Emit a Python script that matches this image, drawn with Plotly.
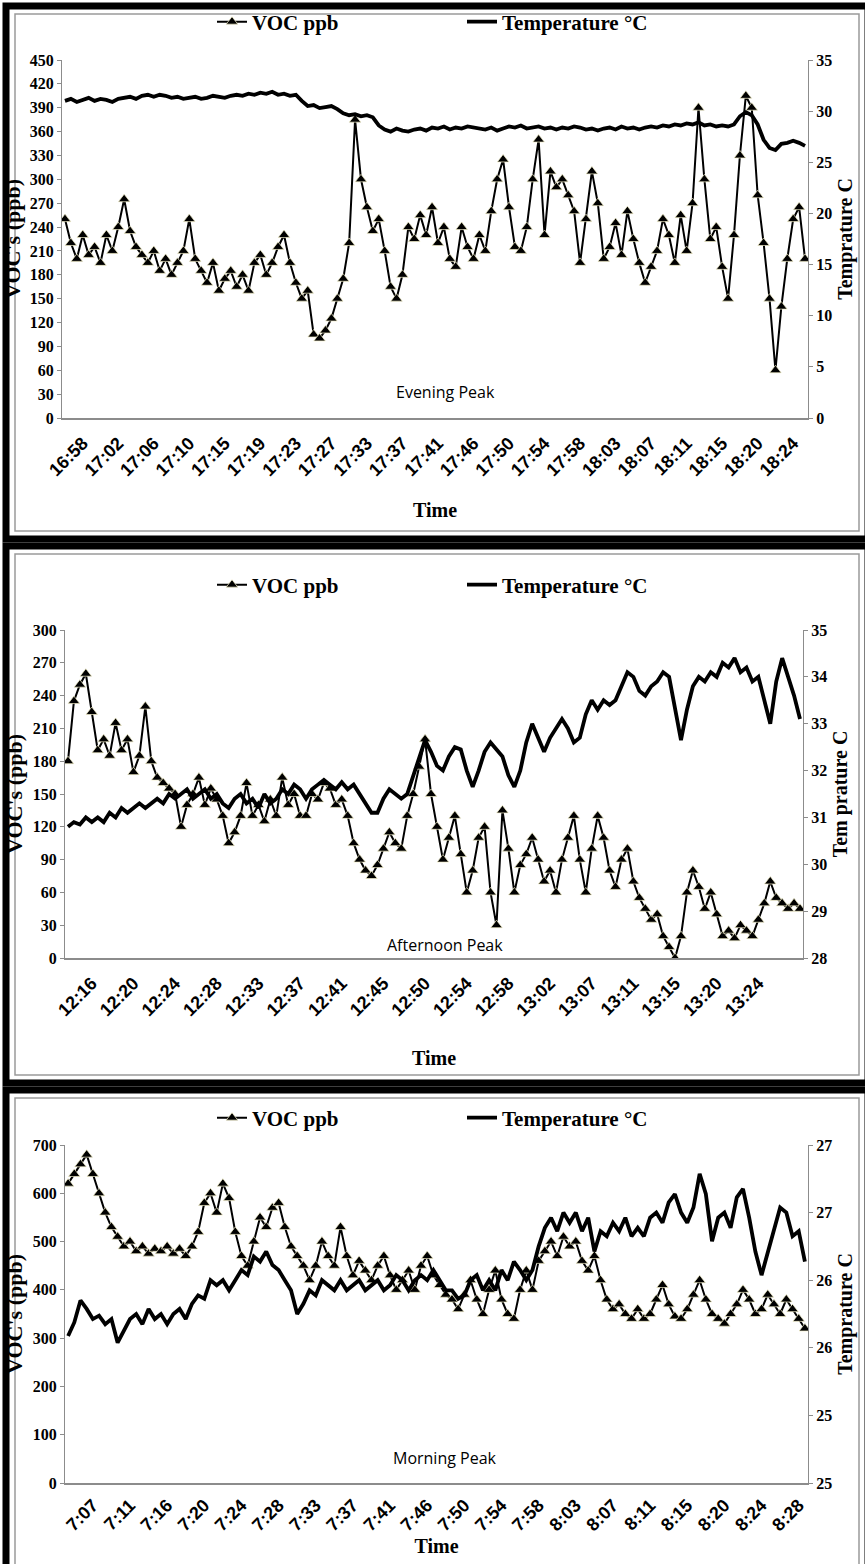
import plotly.graph_objects as go

W, H = 865, 1564

# ---------------- Evening peak ----------------
eve_labels = ["16:58", "17:02", "17:06", "17:10", "17:15", "17:19", "17:23", "17:27", "17:33", "17:37",
              "17:41", "17:46", "17:50", "17:54", "17:58", "18:03", "18:07", "18:11", "18:15", "18:20", "18:24"]
eve_voc = [250, 220, 200, 230, 205, 215, 195, 230, 210, 240,
           275, 235, 215, 205, 195, 210, 185, 200, 180, 195,
           210, 250, 200, 185, 170, 195, 160, 175, 185, 165,
           180, 160, 195, 205, 180, 195, 215, 230, 195, 170,
           150, 160, 105, 100, 110, 125, 150, 175, 220, 375,
           300, 265, 235, 250, 210, 165, 150, 180, 240, 225,
           255, 230, 265, 220, 240, 200, 190, 240, 215, 200,
           230, 210, 260, 300, 325, 265, 215, 210, 240, 300,
           350, 230, 310, 290, 300, 280, 260, 195, 250, 310,
           270, 200, 215, 245, 205, 260, 225, 195, 170, 190,
           210, 250, 230, 195, 255, 210, 270, 390, 300, 225,
           240, 190, 150, 230, 330, 405, 390, 280, 220, 150,
           60, 140, 200, 250, 265, 200]
eve_temp = [31.0, 31.2, 30.9, 31.1, 31.3, 31.0, 31.2, 31.1, 30.9, 31.2,
            31.3, 31.4, 31.2, 31.5, 31.6, 31.4, 31.6, 31.5, 31.3, 31.4,
            31.2, 31.3, 31.4, 31.2, 31.3, 31.5, 31.4, 31.3, 31.5, 31.6,
            31.5, 31.7, 31.6, 31.8, 31.7, 31.9, 31.6, 31.7, 31.5, 31.6,
            31.0, 30.5, 30.6, 30.3, 30.4, 30.5, 30.2, 29.8, 29.6, 29.7,
            29.5, 29.6, 29.4, 28.6, 28.2, 28.0, 28.3, 28.1, 28.0, 28.2,
            28.3, 28.1, 28.4, 28.3, 28.5, 28.2, 28.4, 28.3, 28.5, 28.4,
            28.3, 28.2, 28.4, 28.1, 28.3, 28.5, 28.4, 28.6, 28.3, 28.4,
            28.5, 28.3, 28.4, 28.2, 28.4, 28.3, 28.5, 28.4, 28.2, 28.3,
            28.1, 28.3, 28.4, 28.2, 28.5, 28.3, 28.4, 28.2, 28.4, 28.5,
            28.4, 28.6, 28.5, 28.7, 28.6, 28.8, 28.7, 28.9, 28.6, 28.7,
            28.5, 28.6, 28.5, 28.7, 29.5, 29.9, 29.6, 28.7, 27.2, 26.4,
            26.2, 26.8, 26.9, 27.1, 26.9, 26.6]

# ---------------- Afternoon peak ----------------
aft_labels = ["12:16", "12:20", "12:24", "12:28", "12:33", "12:37", "12:41", "12:45", "12:50",
              "12:54", "12:58", "13:02", "13:07", "13:11", "13:15", "13:20", "13:24"]
aft_voc = [180, 235, 250, 260, 225, 190, 200, 185, 215, 190,
           200, 170, 185, 230, 180, 165, 160, 155, 150, 120,
           140, 150, 165, 140, 155, 145, 130, 105, 115, 130,
           160, 130, 140, 125, 145, 130, 165, 140, 150, 130,
           130, 150, 145, 160, 155, 140, 145, 130, 105, 90,
           80, 75, 85, 100, 115, 105, 100, 130, 150, 175,
           200, 150, 120, 90, 110, 130, 95, 60, 80, 110,
           120, 60, 30, 135, 100, 60, 85, 95, 110, 90,
           70, 80, 60, 90, 110, 130, 90, 60, 100, 130,
           110, 80, 65, 90, 100, 70, 55, 45, 35, 40,
           20, 10, 0, 20, 60, 80, 65, 45, 60, 40,
           20, 25, 18, 30, 25, 20, 35, 50, 70, 55,
           50, 45, 50, 45]
aft_temp = [30.8, 30.9, 30.85, 31.0, 30.9, 31.0, 30.9, 31.1, 31.0, 31.2,
            31.1, 31.2, 31.3, 31.2, 31.3, 31.4, 31.3, 31.5, 31.4, 31.5,
            31.6, 31.4, 31.5, 31.6, 31.4, 31.5, 31.3, 31.2, 31.4, 31.5,
            31.3, 31.4, 31.2, 31.5, 31.3, 31.4, 31.6, 31.5, 31.7, 31.6,
            31.4, 31.6, 31.7, 31.8, 31.7, 31.6, 31.75, 31.6, 31.7, 31.5,
            31.3, 31.1, 31.1, 31.4, 31.6, 31.5, 31.4, 31.5, 31.9, 32.3,
            32.65, 32.4, 32.1, 32.0, 32.3, 32.5, 32.45, 32.0, 31.65, 32.0,
            32.4, 32.6, 32.45, 32.3, 31.9, 31.65, 32.0, 32.6, 33.0, 32.7,
            32.4, 32.7, 32.9, 33.1, 32.9, 32.6, 32.7, 33.2, 33.5, 33.3,
            33.5, 33.4, 33.5, 33.8, 34.1, 34.0, 33.7, 33.6, 33.8, 33.9,
            34.1, 34.0, 33.3, 32.65, 33.3, 33.8, 34.0, 33.9, 34.1, 34.0,
            34.3, 34.2, 34.4, 34.1, 34.2, 33.9, 34.0, 33.5, 33.0, 33.9,
            34.4, 34.0, 33.6, 33.1]

# ---------------- Morning peak ----------------
mor_labels = ["7:07", "7:11", "7:16", "7:20", "7:24", "7:28", "7:33", "7:37", "7:41", "7:46",
              "7:50", "7:54", "7:58", "8:03", "8:07", "8:11", "8:15", "8:20", "8:24", "8:28"]
mor_voc = [620, 640, 660, 680, 640, 600, 560, 530, 510, 490,
           500, 480, 490, 475, 485, 480, 490, 475, 485, 470,
           490, 520, 580, 600, 560, 620, 590, 520, 470, 450,
           500, 550, 530, 570, 580, 530, 490, 470, 450, 420,
           450, 500, 470, 450, 530, 470, 430, 460, 440, 420,
           450, 470, 430, 400, 420, 440, 400, 450, 470, 430,
           410, 390, 380, 360, 390, 420, 380, 350, 400, 440,
           380, 350, 340, 400, 440, 400, 460, 480, 500, 470,
           510, 490, 500, 460, 440, 470, 420, 380, 360, 370,
           350, 340, 360, 340, 350, 380, 410, 370, 345, 340,
           360, 390, 420, 380, 350, 340, 330, 350, 370, 400,
           380, 350, 360, 390, 370, 350, 380, 360, 340, 320]
mor_temp = [25.87, 25.95, 26.08, 26.03, 25.97, 25.99, 25.94, 25.97, 25.83, 25.9,
            25.97, 26.0, 25.94, 26.03, 25.97, 26.0, 25.94, 26.0, 26.03, 25.97,
            26.06, 26.11, 26.09, 26.2, 26.17, 26.2, 26.14, 26.2, 26.26, 26.23,
            26.34, 26.31, 26.37, 26.29, 26.26, 26.2, 26.14, 26.0, 26.06, 26.14,
            26.11, 26.2, 26.17, 26.14, 26.2, 26.14, 26.17, 26.2, 26.14, 26.17,
            26.2, 26.14, 26.17, 26.23, 26.2, 26.14, 26.2, 26.23, 26.2, 26.26,
            26.2, 26.14, 26.14, 26.09, 26.11, 26.2, 26.23, 26.14, 26.2, 26.14,
            26.26, 26.2, 26.31, 26.26, 26.2, 26.26, 26.4, 26.51, 26.57, 26.49,
            26.6, 26.54, 26.6, 26.49, 26.57, 26.37, 26.49, 26.46, 26.54, 26.49,
            26.57, 26.46, 26.51, 26.46, 26.57, 26.6, 26.54, 26.66, 26.71, 26.6,
            26.54, 26.63, 26.83, 26.71, 26.43, 26.57, 26.6, 26.51, 26.69, 26.74,
            26.57, 26.37, 26.23, 26.37, 26.49, 26.63, 26.6, 26.46, 26.49, 26.31]
mor_temp_ticks = [25.0, 25.4, 25.8, 26.2, 26.6, 27.0]
mor_temp_ticktext = ["25", "25", "26", "26", "27", "27"]

panels = [
    dict(labels=eve_labels, per=6, shift=3, voc=eve_voc, temp=eve_temp, vrange=[0, 450], vdtick=30,
         trange=[0, 35], tdtick=5, tvals=None, ttext=None, title="Evening Peak",
         rtitle="Temprature C", top=60, bottom=418, left=62, right=808, leg=22, ann=392,
         tso=24, lso=6),
    dict(labels=aft_labels, per=7, shift=4, voc=aft_voc, temp=aft_temp, vrange=[0, 300], vdtick=30,
         trange=[28, 35], tdtick=1, tvals=None, ttext=None, title="Afternoon Peak",
         rtitle="Tem prature C", top=630, bottom=958, left=65, right=803, leg=585, ann=945,
         tso=32, lso=6),
    dict(labels=mor_labels, per=6, shift=4, voc=mor_voc, temp=mor_temp, vrange=[0, 700], vdtick=100,
         trange=[25, 27], tdtick=None, tvals=mor_temp_ticks, ttext=mor_temp_ticktext,
         title="Morning Peak", rtitle="Temprature C", top=1145, bottom=1483, left=65, right=808,
         leg=1118, ann=1458, tso=2, lso=3),
]

SERIF = "Liberation Serif, Times New Roman, serif"
SANS_N = "Liberation Sans Narrow, Arial Narrow, Liberation Sans, sans-serif"
AXC = "#8c8c8c"

fig = go.Figure()
layout = dict(width=W, height=H, margin=dict(l=0, r=0, t=0, b=0, pad=0, autoexpand=False),
              paper_bgcolor="white", plot_bgcolor="white", showlegend=True)
shapes = []
annotations = []

frames = [(6, 6, 868, 539), (6, 546, 868, 1083), (6, 1090, 868, 1580)]
for (x0, y0, x1, y1) in frames:
    shapes.append(dict(type="rect", xref="paper", yref="paper", x0=x0 / W, x1=x1 / W,
                       y0=1 - y0 / H, y1=1 - y1 / H, line=dict(color="black", width=7)))
    shapes.append(dict(type="rect", xref="paper", yref="paper", x0=(x0 + 9) / W, x1=(x1 - 9) / W,
                       y0=1 - (y0 + 8) / H, y1=1 - (y1 - 8) / H, line=dict(color="#9a9a9a", width=1.5)))

for k, p in enumerate(panels):
    n = len(p["voc"])
    xs = list(range(n))
    xa = "x" if k == 0 else f"x{k + 1}"
    ya = f"y{2 * k + 1}" if k > 0 else "y"
    yb = f"y{2 * k + 2}"
    legname = "legend" if k == 0 else f"legend{k + 1}"
    fig.add_trace(go.Scatter(
        x=xs, y=p["voc"], xaxis=xa, yaxis=ya, name="VOC ppb", legend=legname,
        mode="lines+markers", line=dict(color="black", width=2),
        marker=dict(symbol="triangle-up", size=10, color="black",
                    line=dict(color="#f3efc8", width=0.7))))
    fig.add_trace(go.Scatter(
        x=xs, y=p["temp"], xaxis=xa, yaxis=yb, name="Temperature \u00b0C", legend=legname,
        mode="lines", line=dict(color="black", width=3.8)))

    dom_x = [p["left"] / W, p["right"] / W]
    dom_y = [1 - p["bottom"] / H, 1 - p["top"] / H]
    xkey = "xaxis" if k == 0 else f"xaxis{k + 1}"
    ykey = "yaxis" if k == 0 else f"yaxis{2 * k + 1}"
    ykey2 = f"yaxis{2 * k + 2}"
    tickidx = [i * p["per"] + p["shift"] for i in range(len(p["labels"]))]
    layout[xkey] = dict(domain=dom_x, anchor=ya, range=[-0.5, n - 0.5],
                        tickmode="array", tickvals=tickidx, ticktext=p["labels"],
                        tickangle=-45, ticks="", showline=True, linecolor=AXC, linewidth=1.5,
                        showgrid=False, zeroline=False, ticklabelstandoff=p["lso"],
                        tickfont=dict(family=SANS_N, size=18, color="black", weight="bold"),
                        title=dict(text="Time", standoff=p["tso"],
                                   font=dict(family=SERIF, size=20, color="black", weight="bold")))
    layout[ykey] = dict(domain=dom_y, anchor=xa, range=p["vrange"], dtick=p["vdtick"],
                        showline=True, linecolor=AXC, linewidth=1, ticks="outside", ticklen=4,
                        tickcolor=AXC, showgrid=False, zeroline=False,
                        tickfont=dict(family=SERIF, size=16, color="black", weight="bold"),
                        title=dict(text="VOC's (ppb)", standoff=4,
                                   font=dict(family=SERIF, size=22, color="black", weight="bold")))
    y2 = dict(domain=dom_y, anchor=xa, overlaying=ya, side="right", range=p["trange"],
              showline=True, linecolor=AXC, linewidth=1, ticks="outside", ticklen=4,
              tickcolor=AXC, showgrid=False, zeroline=False,
              tickfont=dict(family=SERIF, size=16, color="black", weight="bold"),
              title=dict(text=p["rtitle"], standoff=6,
                         font=dict(family=SERIF, size=20, color="black", weight="bold")))
    if p["tvals"] is not None:
        y2.update(tickmode="array", tickvals=p["tvals"], ticktext=p["ttext"])
    else:
        y2.update(dtick=p["tdtick"])
    layout[ykey2] = y2
    layout[legname] = dict(x=212 / W, y=1 - p["leg"] / H, xanchor="left", yanchor="middle",
                           orientation="h", bgcolor="rgba(0,0,0,0)", entrywidth=205,
                           entrywidthmode="pixels", itemwidth=30,
                           font=dict(family=SERIF, size=21, color="black", weight="bold"))
    annotations.append(dict(text=p["title"], xref="paper", yref="paper", x=445 / W,
                            y=1 - p["ann"] / H, showarrow=False, xanchor="center", yanchor="middle",
                            font=dict(family="Open Sans, Noto Sans, sans-serif", size=16,
                                      color="black")))

layout["shapes"] = shapes
layout["annotations"] = annotations
fig.update_layout(**layout)
fig.write_html("out.html", config={"displayModeBar": False},
               post_script="document.body.style.margin='0px';")
